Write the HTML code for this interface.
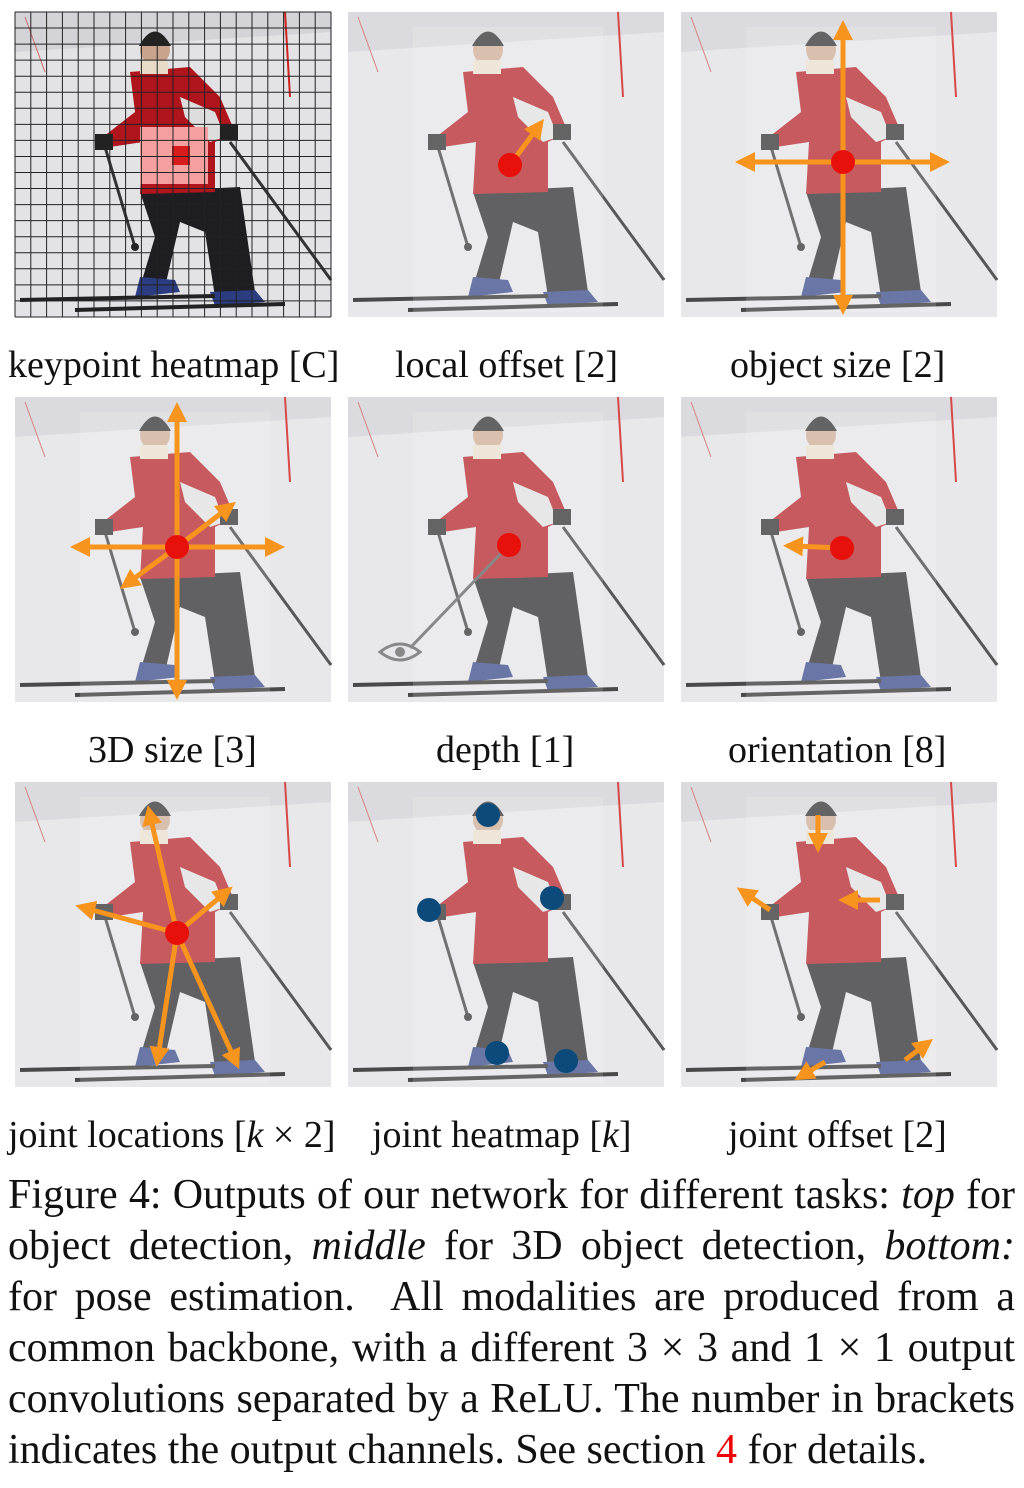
<!DOCTYPE html>
<html><head><meta charset="utf-8">
<style>
html,body{margin:0;padding:0;background:#fff;width:1024px;height:1488px;overflow:hidden}
body{position:relative;font-family:"Liberation Serif",serif;color:#111}
.lab{position:absolute;font-size:38px;white-space:nowrap;line-height:1}
#cap{position:absolute;left:8px;top:1170px;width:1007px;font-size:42px;line-height:51px}
#cap div{text-align:justify;text-align-last:justify;white-space:nowrap;height:51px}
#cap div.last{text-align-last:left}
</style></head><body>
<svg id="fig" width="1024" height="1110" style="position:absolute;left:0;top:0">
<defs>
<g id="skier">
  <rect x="0" y="0" width="316" height="305" fill="#e3e3e6"/>
  <path d="M0 0 L316 0 L316 20 L0 40Z" fill="#d4d4d8"/>
  <line x1="270" y1="0" x2="275" y2="85" stroke="#c22" stroke-width="2"/>
  <line x1="10" y1="5" x2="30" y2="60" stroke="#c66" stroke-width="1"/>
  <line x1="90" y1="135" x2="120" y2="235" stroke="#333" stroke-width="3"/>
  <line x1="215" y1="130" x2="316" y2="268" stroke="#333" stroke-width="3"/>
  <circle cx="120" cy="235" r="4" fill="#222"/>
  <path d="M125 180 L225 175 L240 280 L200 285 L190 220 L165 210 L150 275 L125 275 L140 225Z" fill="#1e1e22"/>
  <path d="M115 60 L175 55 L205 85 L220 120 L200 130 L200 180 L125 182 L128 130 L95 135 L88 125 L120 100Z" fill="#b0141c"/>
  <path d="M165 85 L200 100 L210 125 L195 130 L170 105Z" fill="#ddd"/>
  <circle cx="140" cy="38" r="15" fill="#c9a48c"/>
  <path d="M124 34 Q140 5 156 34Z" fill="#222"/>
  <rect x="125" y="48" width="28" height="14" fill="#e8dcc8"/>
  <rect x="80" y="122" width="18" height="16" fill="#222"/>
  <rect x="205" y="112" width="18" height="16" fill="#222"/>
  <path d="M125 265 L160 268 L165 280 L120 285Z" fill="#2b3d80"/>
  <path d="M195 280 L240 278 L250 290 L200 294Z" fill="#2b3d80"/>
  <line x1="5" y1="288" x2="200" y2="284" stroke="#222" stroke-width="4"/>
  <line x1="60" y1="298" x2="270" y2="292" stroke="#222" stroke-width="4"/>
</g>
<marker id="ah" viewBox="0 0 10 10" refX="5" refY="5" markerWidth="4" markerHeight="4" orient="auto"><path d="M0 0L10 5L0 10Z" fill="#f7941d"/></marker>
</defs>
<g id="panels"></g>
<g id="overlays"></g>
</svg>
<div class="lab" style="left:8px;top:346px">keypoint heatmap [C]</div>
<div class="lab" style="left:395px;top:346px">local offset [2]</div>
<div class="lab" style="left:730px;top:346px">object size [2]</div>
<div class="lab" style="left:88px;top:731px">3D size [3]</div>
<div class="lab" style="left:436px;top:731px">depth [1]</div>
<div class="lab" style="left:728px;top:731px">orientation [8]</div>
<div class="lab" style="left:8px;top:1116px">joint locations [<i>k</i> × 2]</div>
<div class="lab" style="left:372px;top:1116px">joint heatmap [<i>k</i>]</div>
<div class="lab" style="left:728px;top:1116px">joint offset [2]</div>
<div id="cap">
<div>Figure 4: Outputs of our network for different tasks: <i>top</i> for</div>
<div>object detection, <i>middle</i> for 3D object detection, <i>bottom:</i></div>
<div>for pose estimation. &nbsp;All modalities are produced from a</div>
<div>common backbone, with a different 3 × 3 and 1 × 1 output</div>
<div>convolutions separated by a ReLU. The number in brackets</div>
<div class="last">indicates the output channels. See section <span style="color:#e00">4</span> for details.</div>
</div>
<script>
const NS="http://www.w3.org/2000/svg";
const panelX=[15,348,681];
const panelY=[12,397,782];
const centers=[[510,165],[843,162],[177,547],[509,545],[842,548],[177,933]];
const arrows=[[510,165,538,127],[843,162,843,30],[843,162,843,305],[843,162,745,162],[843,162,940,162],
[177,547,177,412],[177,547,177,690],[177,547,80,547],[177,547,275,547],[177,547,228,508],[177,547,128,583],
[842,548,793,546],
[177,933,150,815],[177,933,85,908],[177,933,225,893],[177,933,158,1057],[177,933,235,1060],
[818,815,818,843],[770,910,745,893],[880,900,848,900],[825,1062,803,1075],[905,1060,925,1045]];
const joints=[[488,815],[429,910],[552,898],[497,1053],[566,1061]];
function mk(t,a,p){const e=document.createElementNS(NS,t);for(const k in a)e.setAttribute(k,a[k]);p.appendChild(e);return e;}
const P=document.getElementById('panels'),O=document.getElementById('overlays');
panelY.forEach((y,r)=>panelX.forEach((x,c)=>{
  const g=mk('g',{transform:`translate(${x},${y})`},P);
  
  
  mk('use',{href:'#skier'},g);
  if(r||c){mk('rect',{x:0,y:0,width:316,height:305,fill:'#fff',opacity:0.18},g);mk('rect',{x:65,y:15,width:190,height:285,fill:'#fff',opacity:0.15},g);}
}));
const hg=mk('g',{},O);


mk('rect',{x:140,y:127,width:68,height:57,fill:'#f4a0a0'},hg);
mk('rect',{x:172,y:146,width:18,height:19,fill:'#d81c1c'},hg);
for(let i=0;i<=20;i++){mk('line',{x1:15+i*15.8,y1:12,x2:15+i*15.8,y2:317,stroke:'#222','stroke-width':1},hg);}
for(let i=0;i<=19;i++){mk('line',{x1:15,y1:12+i*16.05,x2:331,y2:12+i*16.05,stroke:'#222','stroke-width':1},hg);}
mk('line',{x1:509,y1:545,x2:410,y2:648,stroke:'#888','stroke-width':3},O);
const eye=mk('path',{d:'M380 652 Q400 636 420 652 Q400 668 380 652Z',fill:'none',stroke:'#888','stroke-width':3},O);


mk('circle',{cx:400,cy:652,r:5,fill:'#888'},O);
arrows.forEach(a=>{
  const l=mk('line',{x1:a[0],y1:a[1],x2:a[2],y2:a[3],stroke:'#f7941d','stroke-width':5,'marker-end':'url(#ah)'},O);
  
  
});
centers.forEach(c=>{
  const d=mk('circle',{cx:c[0],cy:c[1],r:12,fill:'#e8100a'},O);
  
  
});
joints.forEach(j=>{
  const d=mk('circle',{cx:j[0],cy:j[1],r:12,fill:'#0b4a7a'},O);
  
  
});
</script>
</body></html>
